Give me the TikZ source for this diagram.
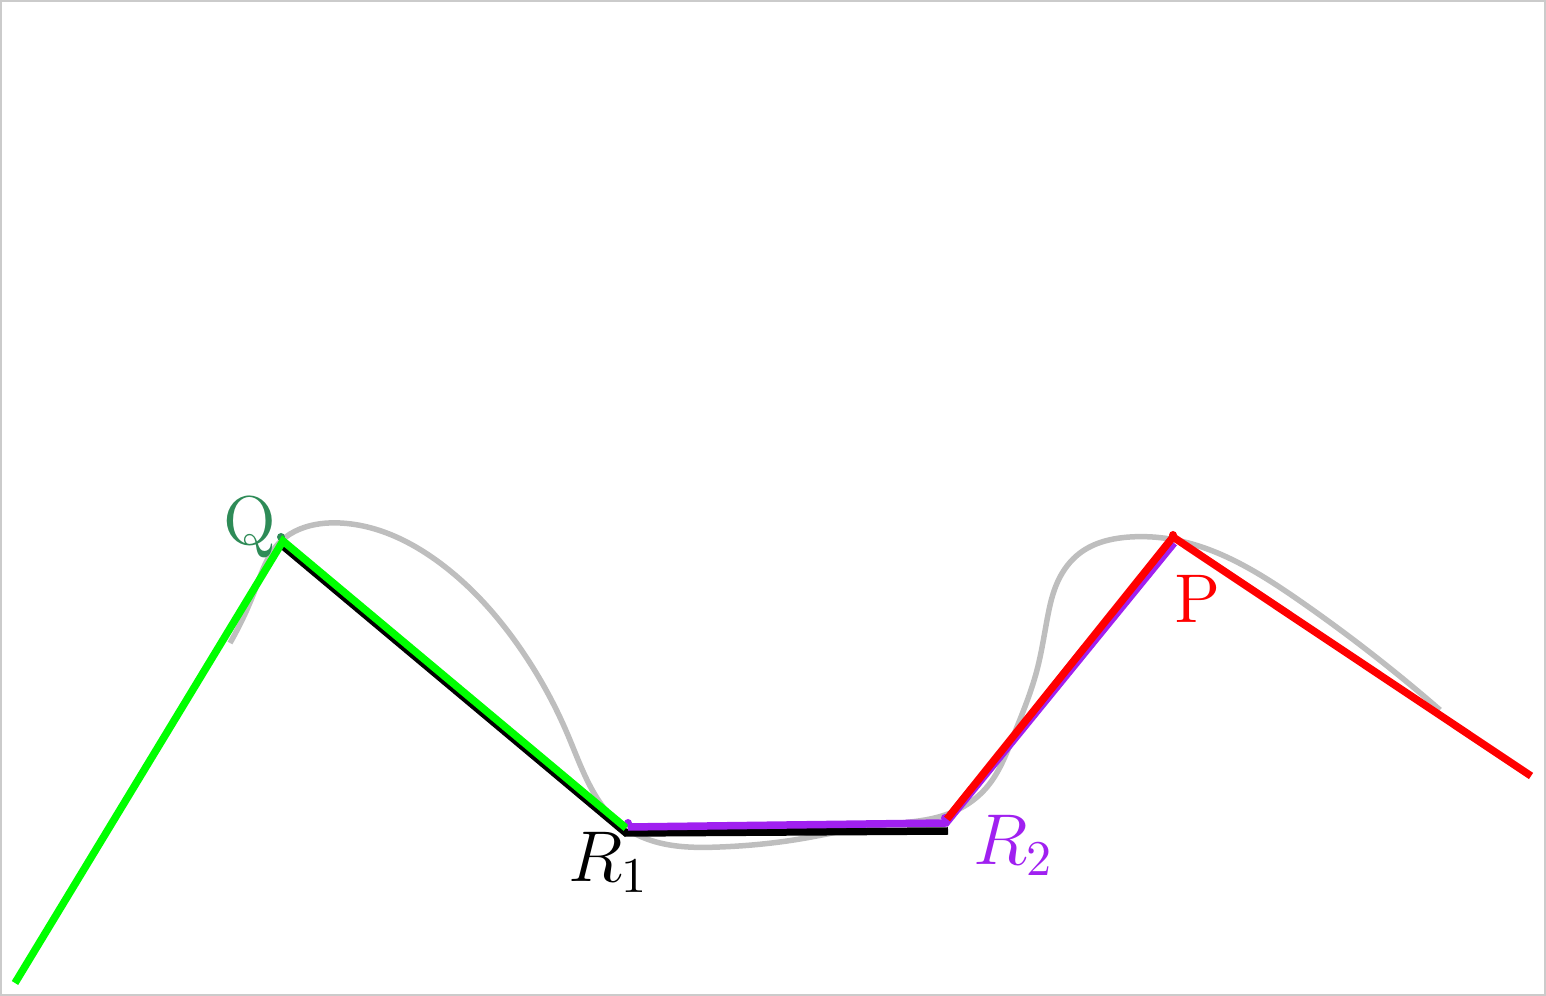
\documentclass[tikz,border=0pt]{standalone}
\usepackage{tikz}
\usetikzlibrary{hobby}
\definecolor{qgreen}{RGB}{46,139,87}
\definecolor{mypurple}{RGB}{160,32,240}
\definecolor{curvegray}{RGB}{190,190,190}
\begin{document}
\begin{tikzpicture}[x=0.2pt,y=-0.2pt,
  seg/.style={line width=1.5pt,line join=miter},
  lbl/.style={inner sep=0pt,anchor=base west,font=\fontsize{13.8}{16}\selectfont},
  ptdot/.style={circle,inner sep=0pt,minimum size=1.6pt}]
\useasboundingbox (0,0) rectangle (1546,996);
\draw[curvegray!80,line width=0.4pt] (1,1) rectangle (1545,995);
% gray curve
\draw[curvegray,line width=1.1pt,use Hobby shortcut] (230,643) .. (255,590) .. (281,541) .. (300,529) .. (340,523)
 .. (440,563) .. (520,648) .. (567,733) .. (588,782) .. (615,820)
 .. (660,843) .. (720,847) .. (800,839) .. (880,825) .. (945,815) .. (987,787) .. (1013,737)
 .. (1037,670) .. (1047,620) .. (1058,581) .. (1080,553) .. (1130,537) .. (1170,539)
 .. (1300,601) .. (1440,710);
% named points
\coordinate (gS) at (15,983);
\coordinate (gQ) at (283,541);
\coordinate (gR) at (626,828);
\coordinate (bQ) at (283,546);
\coordinate (bR) at (626,833);
\coordinate (bE) at (948,831);
\coordinate (pR) at (628,827);
\coordinate (pE) at (946,823);
\coordinate (pP) at (1174,543);
\coordinate (rS) at (947,819);
\coordinate (rP) at (1173,537);
\coordinate (rE) at (1531,776);
% dots
\node[ptdot,fill=qgreen] (dQ) at (281,537) {};
\node[ptdot,fill=mypurple] (dR1) at (628,823) {};
\node[ptdot,fill=mypurple] (dR2) at (945,818) {};
\node[ptdot,fill=red] (dP) at (1173,535) {};
% polylines
\draw[seg,black] (bQ) -- (bR) -- (bE);
\draw[seg,green] (gS) -- (gQ) -- (gR);
\draw[seg,mypurple] (pR) -- (pE) -- (pP);
\draw[seg,red] (rS) -- (rP) -- (rE);
% labels
\node[lbl,text=qgreen] (Q) at (222,545) {Q};
\node[lbl,text=red] (P) at (1173,623) {P};
\node[lbl,text=black] (R1) at (567,882) {$R_1$};
\node[lbl,text=mypurple] (R2) at (972,865) {$R_2$};
\end{tikzpicture}
\end{document}
